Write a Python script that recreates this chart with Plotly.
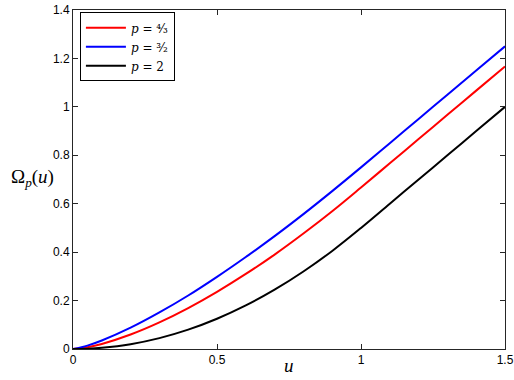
import plotly.graph_objects as go

# values
u = [0, 0.05, 0.1, 0.2, 0.3, 0.4, 0.5, 0.6, 0.7, 0.8, 0.9, 1.0, 1.1, 1.2, 1.3, 1.4, 1.5]
omega_43 = [0, 0.0075, 0.021, 0.060, 0.110, 0.169, 0.236, 0.310, 0.390, 0.477, 0.569,
            0.667, 0.767, 0.867, 0.967, 1.067, 1.167]
omega_32 = [0, 0.014, 0.035, 0.088, 0.151, 0.221, 0.298, 0.380, 0.466, 0.557, 0.652,
            0.750, 0.850, 0.950, 1.050, 1.150, 1.250]
omega_2 = [0, 0.0013, 0.005, 0.020, 0.045, 0.080, 0.125, 0.180, 0.245, 0.320, 0.405,
           0.500, 0.600, 0.700, 0.800, 0.900, 1.000]

x_ticks = [0, 0.5, 1, 1.5]
y_ticks = [0, 0.2, 0.4, 0.6, 0.8, 1, 1.2, 1.4]

SERIF = "DejaVu Serif, Liberation Serif, serif"
SANS = "Liberation Sans, Arial, sans-serif"

fig = go.Figure()
series = [
    ("<i>p</i> = ⁴⁄₃", omega_43, "#ff0000"),
    ("<i>p</i> = ³⁄₂", omega_32, "#0000ff"),
    ("<i>p</i> = 2", omega_2, "#000000"),
]
for name, ys, color in series:
    fig.add_trace(go.Scatter(
        name=name, x=u, y=ys, mode="lines",
        line=dict(color=color, width=2, shape="spline"),
    ))

axis_common = dict(
    showgrid=False, zeroline=False, showline=True, linecolor="#262626", linewidth=1,
    mirror="ticks", ticks="inside", ticklen=5, tickcolor="#262626", automargin=False,
    tickfont=dict(family=SANS, size=12, color="#000000"),
)
fig.update_xaxes(range=[0, 1.5], tickvals=x_ticks, **axis_common)
fig.update_yaxes(range=[0, 1.4], tickvals=y_ticks, **axis_common)

fig.add_annotation(text="<i>u</i>", xref="paper", yref="paper", x=0.5, y=-0.05,
                   yanchor="middle", showarrow=False,
                   font=dict(family="Liberation Serif, serif", size=19, color="#000000"))
fig.add_annotation(text="Ω<sub><i>p</i></sub>(<i>u</i>)", xref="paper", yref="paper",
                   x=-0.04, y=0.505, xanchor="right", showarrow=False,
                   font=dict(family="Liberation Serif, serif", size=19, color="#000000"))

fig.update_layout(
    width=514, height=380,
    margin=dict(l=73, r=9, t=10, b=31),
    plot_bgcolor="#ffffff", paper_bgcolor="#ffffff",
    showlegend=True,
    legend=dict(x=0.016, y=0.993, xanchor="left", yanchor="top",
                bgcolor="#ffffff", bordercolor="#000000", borderwidth=1,
                font=dict(family=SERIF, size=12, color="#000000"),
                tracegroupgap=0, itemwidth=40),
)

fig.write_html(
    "out.html",
    config={"displayModeBar": False},
    post_script="document.body.style.margin='0';document.body.style.overflow='hidden';",
)
